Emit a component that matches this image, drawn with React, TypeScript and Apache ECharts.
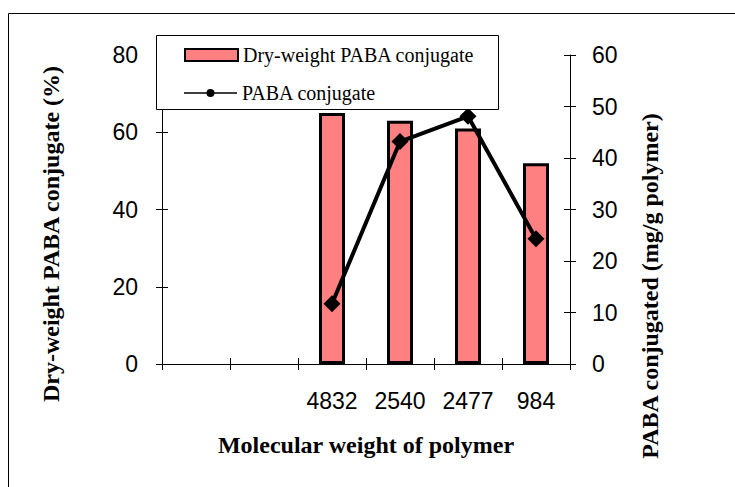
import React, { useEffect, useRef } from "react";
import * as echarts from "echarts";

const categories = ["", "", "4832", "2540", "2477", "984"];
const dryWeight = ["-", "-", 65, 63, 61, 52];
const pabaConjugated = ["-", "-", 11.7, 43.2, 48.1, 24.3];
const leftAxisRange = [0, 80, 20];
const rightAxisRange = [0, 60, 10];
const barName = "Dry-weight PABA conjugate";
const lineName = "PABA conjugate";
const xTitle = "Molecular weight of polymer";
const leftTitle = "Dry-weight PABA conjugate (%)";
const rightTitle = "PABA conjugated (mg/g polymer)";

const SANS = '"Liberation Sans", Arial, sans-serif';
const SERIF = '"Liberation Serif", "Times New Roman", serif';

function valueAxis(range: number[], position: "left" | "right", inside: boolean, margin: number) {
  return {
    type: "value",
    position,
    min: range[0],
    max: range[1],
    interval: range[2],
    splitLine: { show: false },
    axisLine: { show: !inside, lineStyle: { color: "#000", width: 1 } },
    axisTick: { show: true, inside, length: 6, lineStyle: { color: "#000", width: 1 } },
    axisLabel: {
      show: !inside,
      margin,
      color: "#000",
      fontSize: 23,
      fontFamily: SANS,
    },
  };
}

function catAxis(inside: boolean) {
  return {
    type: "category",
    position: "bottom",
    data: categories,
    boundaryGap: true,
    axisLine: { show: !inside, onZero: false, lineStyle: { color: "#000", width: 1 } },
    axisTick: { show: true, inside, length: 6, alignWithLabel: false, interval: 0, lineStyle: { color: "#000", width: 1 } },
    axisLabel: {
      show: !inside,
      interval: 0,
      margin: 25,
      color: "#000",
      fontSize: 23,
      fontFamily: SANS,
    },
  };
}

export default function App() {
  const ref = useRef<HTMLDivElement>(null);
  useEffect(() => {
    document.body.style.margin = "0";
    if (!ref.current) return;
    const chart = echarts.init(ref.current, null, { renderer: "svg" });
    const titleStyle = {
      fill: "#000",
      fontSize: 24,
      fontWeight: "bold",
      fontFamily: SERIF,
      textAlign: "center",
      textVerticalAlign: "middle",
      align: "center",
      verticalAlign: "middle",
    };
    chart.setOption({
      animation: false,
      backgroundColor: "#fff",
      grid: { left: 162, right: 165, top: 55, bottom: 123, containLabel: false },
      xAxis: [catAxis(false), catAxis(true)],
      yAxis: [
        valueAxis(leftAxisRange, "left", false, 24),
        valueAxis(rightAxisRange, "right", false, 22),
        valueAxis(leftAxisRange, "left", true, 24),
        valueAxis(rightAxisRange, "right", true, 22),
      ],
      legend: [
        {
          z: 6,
          left: 184,
          top: 45,
          padding: 0,
          itemWidth: 53,
          itemHeight: 12,
          data: [{ name: barName, icon: "rect" }],
          textStyle: { color: "#000", fontSize: 20, fontFamily: SERIF },
          selectedMode: false,
        },
        {
          z: 6,
          left: 184,
          top: 83,
          padding: 0,
          itemWidth: 53,
          itemHeight: 8,
          data: [
            {
              name: lineName,
              icon: "path://M0,3.2 H53 V4.8 H0 Z M22.5,4 A4,4 0 1,1 30.5,4 A4,4 0 1,1 22.5,4 Z",
              itemStyle: { color: "#000", borderWidth: 0 },
            },
          ],
          textStyle: { color: "#000", fontSize: 20, fontFamily: SERIF },
          selectedMode: false,
        },
      ],
      graphic: [
        {
          type: "rect",
          z: 0,
          shape: { x: 8.5, y: 13.5, width: 740, height: 490 },
          style: { fill: "none", stroke: "#000", lineWidth: 1 },
        },
        {
          type: "rect",
          z: 4,
          shape: { x: 156.5, y: 35.5, width: 342, height: 74 },
          style: { fill: "#fff", stroke: "#000", lineWidth: 1 },
        },
        { type: "text", z: 5, x: 366, y: 445, style: { ...titleStyle, text: xTitle } },
        { type: "text", z: 5, x: 51, y: 234, rotation: Math.PI / 2, style: { ...titleStyle, text: leftTitle } },
        { type: "text", z: 5, x: 650, y: 286, rotation: Math.PI / 2, style: { ...titleStyle, text: rightTitle } },
      ],
      series: [
        {
          name: barName,
          type: "bar",
          xAxisIndex: 0,
          yAxisIndex: 0,
          data: dryWeight,
          barWidth: 26,
          itemStyle: { color: "#FF8080", borderColor: "#000", borderWidth: 3 },
        },
        {
          name: lineName,
          type: "line",
          xAxisIndex: 0,
          yAxisIndex: 1,
          data: pabaConjugated,
          symbol: "diamond",
          symbolSize: 17,
          lineStyle: { color: "#000", width: 4 },
          itemStyle: { color: "#000" },
          z: 3,
        },
      ],
    });
    return () => chart.dispose();
  }, []);
  return <div ref={ref} style={{ width: 735, height: 487 }} />;
}
